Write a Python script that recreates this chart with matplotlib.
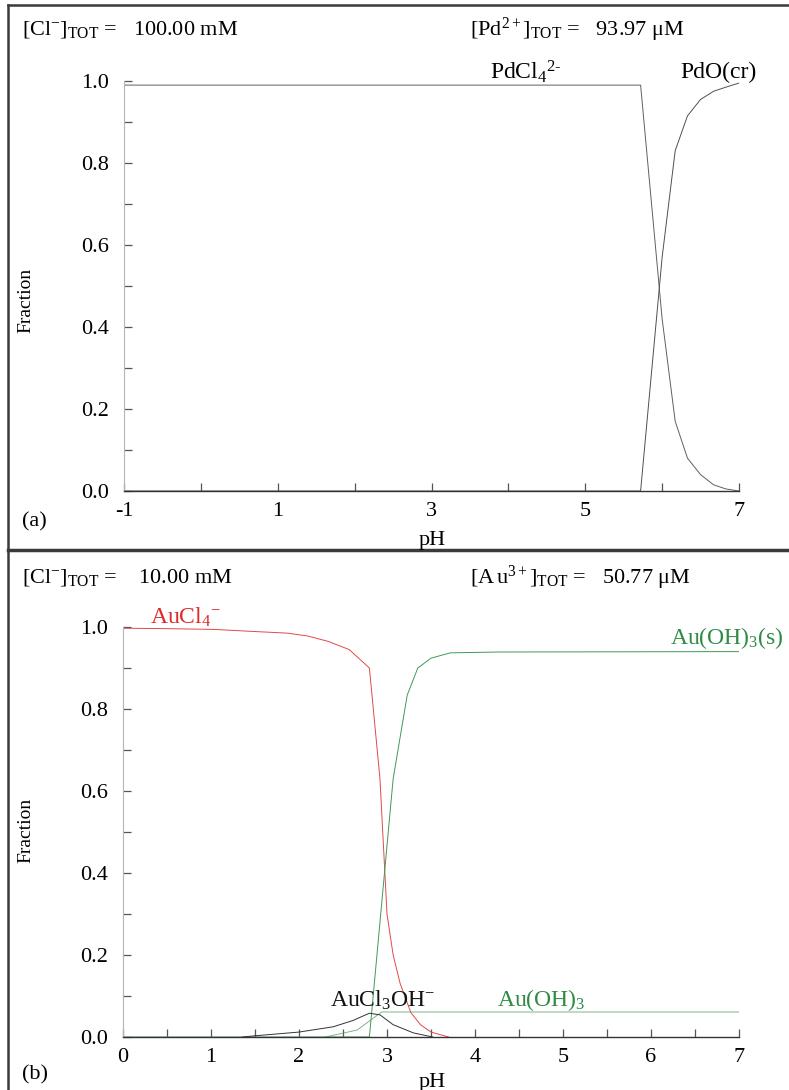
import matplotlib
matplotlib.use("Agg")
import matplotlib.pyplot as plt
from matplotlib.lines import Line2D
from matplotlib.ticker import FixedLocator

plt.rcParams['font.family'] = ['Liberation Serif', 'DejaVu Serif']
plt.rcParams['mathtext.fontset'] = 'custom'
plt.rcParams['mathtext.rm'] = 'Liberation Serif'
plt.rcParams['mathtext.it'] = 'Liberation Serif:italic'
plt.rcParams['mathtext.bf'] = 'Liberation Serif:bold'
plt.rcParams['axes.unicode_minus'] = False

# ---- Panel (a): Pd, [Cl-] = 100 mM ----
ph_a = [-1.0, 5.72, 6.0, 6.17, 6.33, 6.5, 6.67, 6.83, 7.0]
pdcl4 = [0.99, 0.99, 0.42, 0.17, 0.08, 0.04, 0.015, 0.005, 0.0]
pdo = [0.0, 0.0, 0.57, 0.83, 0.915, 0.955, 0.975, 0.985, 0.995]

# ---- Panel (b): Au, [Cl-] = 10 mM ----
ph_b_cl4 = [0.0, 0.5, 1.05, 1.4, 1.87, 2.1, 2.33, 2.57, 2.8, 2.92, 3.0, 3.07, 3.15, 3.27, 3.38, 3.5, 3.7]
aucl4 = [0.997, 0.996, 0.994, 0.99, 0.985, 0.978, 0.965, 0.945, 0.90, 0.63, 0.30, 0.20, 0.13, 0.06, 0.03, 0.012, 0.0]

ph_b_s = [0.0, 2.8, 3.07, 3.23, 3.35, 3.5, 3.72, 4.28, 7.0]
auoh3_s = [0.0, 0.0, 0.63, 0.834, 0.90, 0.924, 0.937, 0.939, 0.94]

ph_b_oh = [1.36, 1.5, 2.0, 2.39, 2.61, 2.8, 2.92, 3.07, 3.3, 3.52]
aucl3oh = [0.0, 0.003, 0.012, 0.025, 0.04, 0.058, 0.054, 0.03, 0.01, 0.0]

ph_b_aq = [2.3, 2.66, 2.94, 7.0]
auoh3_aq = [0.0, 0.017, 0.061, 0.061]

W, H = 789, 1090
fig = plt.figure(figsize=(W / 100, H / 100), dpi=100)

def fx(px):
    return px / W

def fy(py):
    return 1 - py / H

def ftext(x, y, s, **kw):
    kw.setdefault('fontsize', 16)
    kw.setdefault('va', 'center')
    fig.text(fx(x), fy(y), s, **kw)

right = 739
ax_a = fig.add_axes([fx(124), fy(491), fx(right) - fx(124), fy(81) - fy(491)])
ax_b = fig.add_axes([fx(123), fy(1037), fx(right) - fx(123), fy(627) - fy(1037)])

def style(ax):
    ax.set_facecolor('none')
    for s in ('top', 'right'):
        ax.spines[s].set_visible(False)
    ax.spines['left'].set_color('#b5b5b5')
    ax.spines['left'].set_linewidth(0.8)
    ax.spines['bottom'].set_color('#333333')
    ax.spines['bottom'].set_linewidth(1.0)
    ax.set_ylim(0, 1.0)
    ax.yaxis.set_major_locator(FixedLocator([0.0, 0.2, 0.4, 0.6, 0.8, 1.0]))
    ax.yaxis.set_minor_locator(FixedLocator([0.1, 0.3, 0.5, 0.7, 0.9]))
    ax.yaxis.set_major_formatter(plt.FuncFormatter(lambda v, p: f"{v:.1f}"))
    ax.tick_params(axis='both', which='both', direction='in', length=6,
                   width=0.9, color='#555555', labelsize=16, pad=8)
    ax.tick_params(axis='y', which='both', pad=11)

style(ax_a)
style(ax_b)

# Panel (a)
ax_a.set_xlim(-1, 7)
ax_a.xaxis.set_major_locator(FixedLocator([-1, 1, 3, 5, 7]))
ax_a.xaxis.set_minor_locator(FixedLocator([0, 2, 4, 6]))
ax_a.plot(ph_a, pdcl4, color='#606060', lw=0.7)
ax_a.plot(ph_a, pdo, color='#505050', lw=0.7)

# Panel (b)
ax_b.set_xlim(0, 7)
ax_b.xaxis.set_major_locator(FixedLocator([0, 1, 2, 3, 4, 5, 6, 7]))
ax_b.xaxis.set_minor_locator(FixedLocator([0.5, 1.5, 2.5, 3.5, 4.5, 5.5, 6.5]))
ax_b.plot(ph_b_cl4, aucl4, color='#e04a4a', lw=0.7)
ax_b.plot(ph_b_s, auoh3_s, color='#3f9a55', lw=0.7)
ax_b.plot(ph_b_aq, auoh3_aq, color='#3f9a55', lw=0.7, alpha=0.7)
ax_b.plot(ph_b_oh, aucl3oh, color='#333333', lw=0.7)

# outer frame
frame_kw = dict(color='#3a3a3a', transform=fig.transFigure, figure=fig)
fig.lines.append(Line2D([fx(8), fx(8)], [fy(5), fy(1090)], lw=1.8, **frame_kw))
fig.lines.append(Line2D([fx(8), fx(789)], [fy(5), fy(5)], lw=1.8, **frame_kw))
fig.lines.append(Line2D([fx(8), fx(789)], [fy(550), fy(550)], lw=2.5, **frame_kw))

# Panel (a) texts
ftext(22, 30, r'$[\mathrm{Cl}^{-}]_{\mathrm{TOT}}$ =   100.00 mM')
ftext(470, 30, r'$[\mathrm{Pd}^{2+}]_{\mathrm{TOT}}$ =   93.97 $\mathrm{\mu}$M')
ftext(490, 72, r'$\mathrm{PdCl}_{4}{}^{2\text{-}}$', fontsize=17)
ftext(680, 72, 'PdO(cr)', fontsize=17)
ftext(26, 300, 'Fraction', rotation=90, ha='center', fontsize=14)
ftext(432, 540, 'pH', ha='center')
ftext(22, 522, '(a)')

# Panel (b) texts
ftext(22, 578, r'$[\mathrm{Cl}^{-}]_{\mathrm{TOT}}$ =    10.00 mM')
ftext(470, 578, r'$[\mathrm{A\,u}^{3+}]_{\mathrm{TOT}}$ =   50.77 $\mathrm{\mu}$M')
ftext(150, 617, r'$\mathrm{AuCl}_{4}{}^{-}$', color='#dd2b2b', fontsize=17)
ftext(670, 638, 'Au(OH)$_3$(s)', color='#2e8b45', fontsize=17)
ftext(330, 1000, r'$\mathrm{AuCl}_{3}\mathrm{OH}^{-}$', color='#111111', fontsize=17)
ftext(497, 1000, r'$\mathrm{Au(OH)}_{3}$', color='#2e8b45', fontsize=17)
ftext(26, 830, 'Fraction', rotation=90, ha='center', fontsize=14)
ftext(432, 1082, 'pH', ha='center')
ftext(22, 1075, '(b)')

fig.savefig('out.png', dpi=100, facecolor='white')
